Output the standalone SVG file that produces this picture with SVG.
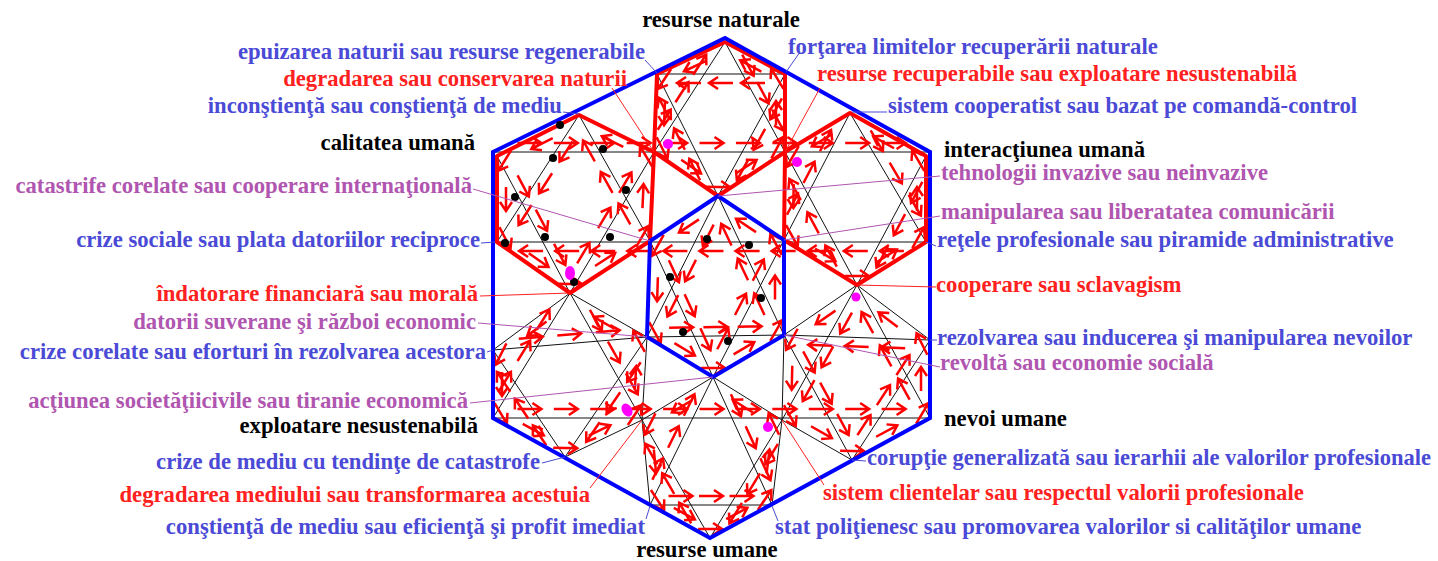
<svg xmlns="http://www.w3.org/2000/svg" width="1438" height="561" viewBox="0 0 1438 561">
<style>
text{font-family:"Liberation Serif","Times New Roman",serif;font-weight:bold;font-size:22.7px}
.b{fill:#4a4ad6}.r{fill:#ff2020}.p{fill:#b055b0}.k{fill:#000}
.e{text-anchor:end}.m{text-anchor:middle}
.ln{fill:none;stroke:#111;stroke-width:1}
.rh{fill:none;stroke:#ff0000;stroke-width:4;stroke-linejoin:round}
.bh{fill:none;stroke:#0000ff;stroke-width:4}
.ar path{fill:none;stroke:none}
.aL{marker-mid:url(#mL)}.aR{marker-mid:url(#mR)}
.lb{stroke:#4a4ad6;stroke-width:1;fill:none}
.lr{stroke:#ff2020;stroke-width:1;fill:none}
.lp{stroke:#b055b0;stroke-width:1;fill:none}
.dk{fill:#000}.dm{fill:#ff00ff}
</style>
<defs>
<marker id="mL" markerUnits="userSpaceOnUse" orient="auto" markerWidth="40" markerHeight="40" viewBox="-20 -20 40 40" overflow="visible"><path d="M-12 -9H12M3 -15L12 -9L3 -3" fill="none" stroke="#ff0000" stroke-width="2.5"/></marker>
<marker id="mR" markerUnits="userSpaceOnUse" orient="auto" markerWidth="40" markerHeight="40" viewBox="-20 -20 40 40" overflow="visible"><path d="M12 9H-12M-3 3L-12 9L-3 15" fill="none" stroke="#ff0000" stroke-width="2.5"/></marker>
</defs>

<g id="grid" class="ln">
<path d="M725 42L785 152M725 42L654 152M718 196L657 74M718 196L785 74M657 74H785"/>
<path d="M579 115L650 241M579 115L497 242M570 293L497 156M570 293L654 152"/>
<path d="M850 113L926 242M850 113L784 240M857 285L785 152M857 285L926 156"/>
<path d="M718 196L784 335M718 196L647 337M713 377L650 241M713 377L784 240M647 337L784 335"/>
<path d="M570 293L642 420M570 293L493 418M565 457L493 350M565 457L647 337M493 350L647 337"/>
<path d="M857 285L930 418M857 285L782 420M852 460L784 335M852 460L930 340M784 335L930 340"/>
<path d="M713 377L772 505M713 377L650 505M710 538L642 420M710 538L782 420M650 505H772"/>
<path d="M493 152H930M495 242H928M493 418H930"/>
<polygon id="hex-lower-left" points="570,293 647,337 642,420 565,457 493,418 493,350"/>
<polygon id="hex-lower-right" points="857,285 930,340 930,418 852,460 782,420 784,335"/>
<polygon id="hex-bottom" points="713,377 782,420 772,505 710,538 650,505 642,420"/>
</g>

<g id="arrows" class="ar">
<path class="aL" d="M725 42l15 27.5l15 27.5l15 27.5l15 27.5"/>
<path class="aR" d="M725 42l-17.75 27.5l-17.75 27.5l-17.75 27.5l-17.75 27.5"/>
<path class="aL" d="M718 196l-15.25-30.5l-15.25-30.5l-15.25-30.5l-15.25-30.5"/>
<path class="aR" d="M718 196l16.75-30.5l16.75-30.5l16.75-30.5l16.75-30.5"/>
<path class="aR" d="M657 74l32 0l32 0l32 0l32 0"/>
<path class="aR" d="M725 42l30 16l30 16l0 39l0 39l-33.5 22l-33.5 22l-32-22l-32-22l1.5-39l1.5-39l34-16l34-16"/>

<path class="aR" d="M579 115l17.75 31.5l17.75 31.5l17.75 31.5l17.75 31.5"/>
<path class="aL" d="M579 115l-20.5 31.75l-20.5 31.75l-20.5 31.75l-20.5 31.75"/>
<path class="aR" d="M570 293l-18.25-34.25l-18.25-34.25l-18.25-34.25l-18.25-34.25"/>
<path class="aL" d="M570 293l21-35.25l21-35.25l21-35.25l21-35.25"/>
<path class="aR" d="M579 115l37.5 18.5l37.5 18.5l-2 44.5l-2 44.5l-40 26l-40 26l-36.5-25.5l-36.5-25.5l0-43l0-43l41-20.5l41-20.5"/>

<path class="aL" d="M850 113l19 32.25l19 32.25l19 32.25l19 32.25"/>
<path class="aR" d="M850 113l-16.5 31.75l-16.5 31.75l-16.5 31.75l-16.5 31.75"/>
<path class="aL" d="M857 285l-18-33.25l-18-33.25l-18-33.25l-18-33.25"/>
<path class="aR" d="M857 285l17.25-32.25l17.25-32.25l17.25-32.25l17.25-32.25"/>
<path class="aR" d="M850 113l38 21.5l38 21.5l0 43l0 43l-34.5 21.5l-34.5 21.5l-36.5-22.5l-36.5-22.5l0.5-44l0.5-44l32.5-19.5l32.5-19.5"/>

<path class="aR" d="M718 196l16.5 34.75l16.5 34.75l16.5 34.75l16.5 34.75"/>
<path class="aL" d="M718 196l-17.75 35.25l-17.75 35.25l-17.75 35.25l-17.75 35.25"/>
<path class="aR" d="M713 377l-15.75-34l-15.75-34l-15.75-34l-15.75-34"/>
<path class="aL" d="M713 377l17.75-34.25l17.75-34.25l17.75-34.25l17.75-34.25"/>
<path class="aL" d="M647 337l34.25-0.5l34.25-0.5l34.25-0.5l34.25-0.5"/>
<path class="aR" d="M718 196l33 22l33 22l0 47.5l0 47.5l-35.5 21l-35.5 21l-33-20l-33-20l1.5-48l1.5-48l34-22.5l34-22.5"/>

<path class="aL" d="M570 293l18 31.75l18 31.75l18 31.75l18 31.75"/>
<path class="aR" d="M570 293l-19.25 31.25l-19.25 31.25l-19.25 31.25l-19.25 31.25"/>
<path class="aL" d="M565 457l-18-26.75l-18-26.75l-18-26.75l-18-26.75"/>
<path class="aR" d="M565 457l20.5-30l20.5-30l20.5-30l20.5-30"/>
<path class="aL" d="M493 350l38.5-3.25l38.5-3.25l38.5-3.25l38.5-3.25"/>
<path class="aR" d="M570 293l38.5 22l38.5 22l-2.5 41.5l-2.5 41.5l-38.5 18.5l-38.5 18.5l-36-19.5l-36-19.5l0-34l0-34l38.5-28.5l38.5-28.5"/>

<path class="aR" d="M857 285l18.25 33.25l18.25 33.25l18.25 33.25l18.25 33.25"/>
<path class="aL" d="M857 285l-18.75 33.75l-18.75 33.75l-18.75 33.75l-18.75 33.75"/>
<path class="aR" d="M852 460l-17-31.25l-17-31.25l-17-31.25l-17-31.25"/>
<path class="aL" d="M852 460l19.5-30l19.5-30l19.5-30l19.5-30"/>
<path class="aR" d="M784 335l36.5 1.25l36.5 1.25l36.5 1.25l36.5 1.25"/>
<path class="aR" d="M857 285l36.5 27.5l36.5 27.5l0 39l0 39l-39 21l-39 21l-35-20l-35-20l1-42.5l1-42.5l36.5-25l36.5-25"/>

<path class="aL" d="M713 377l14.75 32l14.75 32l14.75 32l14.75 32"/>
<path class="aR" d="M713 377l-15.75 32l-15.75 32l-15.75 32l-15.75 32"/>
<path class="aL" d="M710 538l-17-29.5l-17-29.5l-17-29.5l-17-29.5"/>
<path class="aR" d="M710 538l18-29.5l18-29.5l18-29.5l18-29.5"/>
<path class="aL" d="M650 505l30.5 0l30.5 0l30.5 0l30.5 0"/>
<path class="aR" d="M713 377l34.5 21.5l34.5 21.5l-5 42.5l-5 42.5l-31 16.5l-31 16.5l-30-16.5l-30-16.5l-4-42.5l-4-42.5l35.5-21.5l35.5-21.5"/>

<path class="aL" d="M493 152l36.42 0l36.42 0l36.42 0l36.42 0l36.42 0l36.42 0l36.42 0l36.42 0l36.42 0l36.42 0l36.42 0l36.42 0"/>
<path class="aR" d="M495 242l36.08 0l36.08 0l36.08 0l36.08 0l36.08 0l36.08 0l36.08 0l36.08 0l36.08 0l36.08 0l36.08 0l36.08 0"/>
<path class="aL" d="M493 418l36.42 0l36.42 0l36.42 0l36.42 0l36.42 0l36.42 0l36.42 0l36.42 0l36.42 0l36.42 0l36.42 0l36.42 0"/>
</g>

<g id="hex-top" class="rh"><polygon points="725,42 785,74 785,152 718,196 654,152 657,74"/></g>
<g id="hex-top-left" class="rh"><polygon points="579,115 654,152 650,241 570,293 497,242 497,156"/></g>
<g id="hex-top-right" class="rh"><polygon points="850,113 926,156 926,242 857,285 784,240 785,152"/></g>
<g id="hex-outer" class="bh"><polygon points="725,38 930,152 930,418 710,538 493,418 493,152"/></g>
<g id="hex-center" class="bh"><polygon points="718,196 784,240 784,335 713,377 647,337 650,241"/></g>

<g id="dots">
<circle class="dk" cx="560" cy="125" r="4"/><circle class="dk" cx="553" cy="158" r="4"/><circle class="dk" cx="603" cy="149" r="4"/>
<circle class="dk" cx="626" cy="190" r="4"/><circle class="dk" cx="515" cy="197" r="4"/><circle class="dk" cx="545" cy="237" r="4"/>
<circle class="dk" cx="610" cy="237" r="4"/><circle class="dk" cx="505" cy="243" r="4"/><circle class="dk" cx="574" cy="282" r="4"/>
<circle class="dk" cx="707" cy="239" r="4"/><circle class="dk" cx="749" cy="245" r="4"/><circle class="dk" cx="670" cy="277" r="4"/>
<circle class="dk" cx="761" cy="298" r="4"/><circle class="dk" cx="683" cy="332" r="4"/><circle class="dk" cx="728" cy="341" r="4"/>
<circle class="dm" cx="668" cy="144" r="5"/><circle class="dm" cx="797" cy="162" r="5"/>
<ellipse class="dm" cx="570" cy="273" rx="5" ry="7"/><circle class="dm" cx="856" cy="297" r="4.5"/>
<ellipse class="dm" cx="627" cy="410" rx="5" ry="7" transform="rotate(-30 627 410)"/><circle class="dm" cx="768" cy="427" r="5"/>
</g>

<g id="leaders">
<path class="lb" d="M645 60L657 73M563 112L579 114M481 243L495 242M487 352L493 350M542 463L565 457M646 519L650 506M800 52L786 72M887 112L852 112M936 246L926 242M937 340L930 340M866 461L852 460M778 521L772 506"/>
<path class="lr" d="M612 88L654 152M480 296L570 293M590 488L642 420M820 88L785 152M936 287L857 285M824 485L782 420"/>
<path class="lp" d="M473 189L650 241M478 323L647 337M470 403L713 377M940 176L718 196M940 216L784 240M940 367L784 335"/>
</g>

<g id="labels">
<text class="k m" x="721" y="27">resurse naturale</text>
<text class="b e" x="645" y="59">epuizarea naturii sau resurse regenerabile</text>
<text class="r e" x="627" y="86">degradarea sau conservarea naturii</text>
<text class="b e" x="562" y="113">inconştienţă sau conştienţă de mediu</text>
<text class="k e" x="475" y="150">calitatea umană</text>
<text class="p e" x="472" y="193">catastrife corelate sau cooperare internaţională</text>
<text class="b e" x="480" y="247">crize sociale sau plata datoriilor reciproce</text>
<text class="r e" x="478" y="301">îndatorare financiară sau morală</text>
<text class="p e" x="476" y="329">datorii suverane şi război economic</text>
<text class="b e" x="486" y="359">crize corelate sau eforturi în rezolvarea acestora</text>
<text class="p e" x="468" y="408">acţiunea societăţiicivile sau tiranie economică</text>
<text class="k e" x="478" y="433">exploatare nesustenabilă</text>
<text class="b e" x="540" y="469">crize de mediu cu tendinţe de catastrofe</text>
<text class="r e" x="590" y="502">degradarea mediului sau transformarea acestuia</text>
<text class="b e" x="645" y="534">conştienţă de mediu sau eficienţă şi profit imediat</text>
<text class="b" x="788" y="54">forţarea limitelor recuperării naturale</text>
<text class="r" x="817" y="81">resurse recuperabile sau exploatare nesustenabilă</text>
<text class="b" x="888" y="113">sistem cooperatist sau bazat pe comandă-control</text>
<text class="k" x="944" y="157">interacţiunea umană</text>
<text class="p" x="941" y="180">tehnologii invazive sau neinvazive</text>
<text class="p" x="941" y="219">manipularea sau liberatatea comunicării</text>
<text class="b" x="937" y="247">reţele profesionale sau piramide administrative</text>
<text class="r" x="936" y="292">cooperare sau sclavagism</text>
<text class="b" x="937" y="345">rezolvarea sau inducerea şi manipularea nevoilor</text>
<text class="p" x="940" y="370">revoltă sau economie socială</text>
<text class="k" x="944" y="426">nevoi umane</text>
<text class="b" x="867" y="465" textLength="564" lengthAdjust="spacingAndGlyphs">corupţie generalizată sau ierarhii ale valorilor profesionale</text>
<text class="r" x="823" y="500">sistem clientelar sau respectul valorii profesionale</text>
<text class="b" x="775" y="534">stat poliţienesc sau promovarea valorilor si calităţilor umane</text>
<text class="k m" x="707" y="557">resurse umane</text>
</g>
</svg>
